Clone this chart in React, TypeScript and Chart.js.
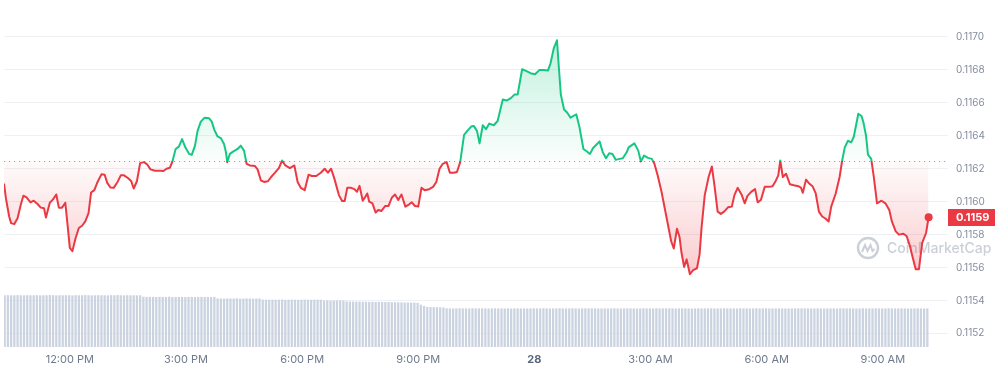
import React, { useEffect, useRef } from "react";
import { Chart, registerables } from "chart.js";

Chart.register(...registerables);

// ---- Data ----
// minutes relative to 12:00 PM (day 27)
const xTickMinutes = [0, 180, 360, 540, 720, 900, 1080, 1260];
const xTickLabels = ["12:00 PM", "3:00 PM", "6:00 PM", "9:00 PM", "28", "3:00 AM", "6:00 AM", "9:00 AM"];
const yTicks = [0.1152, 0.1154, 0.1156, 0.1158, 0.116, 0.1162, 0.1164, 0.1166, 0.1168, 0.117];
const openPrice = 0.11625;

const priceMinutes = [
  -102, -99, -94, -91, -86, -81, -76, -72, -67, -61,
  -56, -50, -45, -40, -37, -31, -26, -21, -17, -12,
  -7, -3, 0, 4, 9, 14, 19, 24, 29, 33,
  38, 43, 49, 54, 58, 63, 68, 74, 79, 84,
  90, 95, 99, 104, 109, 115, 120, 125, 132, 140,
  145, 150, 155, 159, 164, 169, 174, 179, 185, 189,
  194, 198, 203, 209, 216, 220, 224, 229, 234, 239,
  242, 244, 248, 253, 260, 265, 270, 274, 279, 287,
  291, 296, 301, 307, 312, 318, 324, 329, 334, 341,
  348, 353, 358, 364, 370, 375, 382, 389, 395, 400,
  405, 410, 417, 422, 426, 430, 436, 441, 445, 449,
  454, 458, 461, 464, 469, 474, 478, 483, 489, 494,
  499, 504, 509, 514, 520, 526, 530, 535, 540, 545,
  550, 557, 563, 568, 573, 578, 584, 589, 595, 600,
  605, 611, 616, 622, 626, 631, 635, 640, 645, 650,
  657, 663, 671, 677, 684, 689, 694, 701, 707, 714,
  721, 728, 734, 741, 745, 750, 755, 758, 761, 766,
  771, 776, 780, 785, 790, 796, 801, 806, 811, 816,
  821, 826, 831, 836, 841, 846, 852, 857, 863, 866,
  875, 881, 885, 890, 896, 902, 906, 911, 917, 922,
  927, 932, 936, 941, 945, 948, 952, 956, 961, 966,
  972, 976, 979, 984, 990, 995, 999, 1004, 1009, 1014,
  1020, 1026, 1030, 1035, 1041, 1046, 1050, 1056, 1062, 1066,
  1071, 1077, 1084, 1089, 1094, 1098, 1101, 1105, 1110, 1116,
  1122, 1129, 1133, 1136, 1141, 1145, 1151, 1156, 1161, 1166,
  1171, 1176, 1180, 1187, 1193, 1197, 1201, 1206, 1211, 1215,
  1222, 1227, 1230, 1234, 1237, 1242, 1246, 1251, 1258, 1264,
  1270, 1274, 1280, 1285, 1292, 1297, 1302, 1307, 1311, 1316,
  1321, 1327, 1331,
];

const prices = [
  0.11611, 0.11602, 0.11591, 0.11587, 0.115864, 0.1159, 0.115982, 0.116036, 0.116026, 0.115996,
  0.116006, 0.115986, 0.115964, 0.11596, 0.115904, 0.115994, 0.116014, 0.116044, 0.115964, 0.115964,
  0.115994, 0.11584, 0.11572, 0.1157, 0.11578, 0.11584, 0.115854, 0.11588, 0.11593, 0.116056,
  0.11607, 0.11612, 0.116166, 0.116164, 0.116114, 0.116086, 0.116084, 0.11612, 0.11616, 0.11616,
  0.116144, 0.116126, 0.11608, 0.116124, 0.116234, 0.11624, 0.116226, 0.116196, 0.116188, 0.116188,
  0.116186, 0.1162, 0.116206, 0.116244, 0.11632, 0.116334, 0.11638, 0.11633, 0.11629, 0.116284,
  0.11634, 0.11643, 0.116486, 0.11651, 0.116506, 0.116486, 0.116436, 0.116396, 0.116386, 0.11635,
  0.1163, 0.11624, 0.11629, 0.116304, 0.11632, 0.11634, 0.11631, 0.11623, 0.11622, 0.116216,
  0.116196, 0.11613, 0.11612, 0.116124, 0.11615, 0.116176, 0.116204, 0.11625, 0.11622, 0.116204,
  0.11622, 0.11612, 0.116084, 0.11607, 0.116164, 0.116156, 0.116156, 0.116176, 0.1162, 0.116176,
  0.1162, 0.11614, 0.11604, 0.116004, 0.116004, 0.116084, 0.116084, 0.116076, 0.11606, 0.116096,
  0.116006, 0.11603, 0.11605, 0.116, 0.11599, 0.115934, 0.11595, 0.115944, 0.115974, 0.115974,
  0.116024, 0.116044, 0.11601, 0.116044, 0.11597, 0.115984, 0.115996, 0.115974, 0.11597, 0.116084,
  0.11607, 0.116076, 0.11609, 0.11612, 0.1162, 0.11623, 0.11624, 0.116176, 0.116176, 0.11618,
  0.11624, 0.116406, 0.11643, 0.116456, 0.11646, 0.11643, 0.116354, 0.116464, 0.11644, 0.116474,
  0.116464, 0.11649, 0.11662, 0.116614, 0.11663, 0.11665, 0.11665, 0.116804, 0.116794, 0.11678,
  0.116774, 0.1168, 0.1168, 0.116796, 0.11684, 0.11693, 0.11698, 0.11681, 0.11665, 0.11656,
  0.11654, 0.11651, 0.11652, 0.11653, 0.11645, 0.11632, 0.116306, 0.11629, 0.116326, 0.116346,
  0.116366, 0.1163, 0.116264, 0.116294, 0.11629, 0.116254, 0.11626, 0.116264, 0.1163, 0.11633,
  0.116354, 0.11631, 0.116244, 0.11628, 0.116266, 0.11626, 0.11623, 0.11616, 0.11606, 0.11596,
  0.11586, 0.11576, 0.115716, 0.115836, 0.115784, 0.11569, 0.115604, 0.11565, 0.11556, 0.115584,
  0.115596, 0.11568, 0.11584, 0.11604, 0.11615, 0.116214, 0.1161, 0.11594, 0.115926, 0.11594,
  0.115966, 0.11597, 0.11604, 0.116084, 0.116044, 0.11599, 0.116034, 0.11606, 0.116076, 0.115996,
  0.11601, 0.11609, 0.11609, 0.116094, 0.116126, 0.11616, 0.11625, 0.11615, 0.11617, 0.116106,
  0.1161, 0.116094, 0.116086, 0.116054, 0.116134, 0.116114, 0.116094, 0.11605, 0.11594, 0.11591,
  0.115898, 0.11588, 0.11597, 0.11605, 0.11615, 0.11625, 0.11633, 0.11637, 0.11636, 0.116394,
  0.116534, 0.11652, 0.11648, 0.1164, 0.116286, 0.11626, 0.11615, 0.11599, 0.116006, 0.11599,
  0.11595, 0.11588, 0.11582, 0.1158, 0.115806, 0.11579, 0.11573, 0.11565, 0.11559, 0.11559,
  0.11575, 0.11581, 0.115906,
];

// 24h volume bars, one every 5 minutes
const volumeStartMinute = -101;
const volumeIntervalMinutes = 5;
const volumes = [
  520, 521, 519, 520, 522, 520, 519, 521, 520, 520,
  521, 519, 520, 520, 522, 521, 519, 520, 520, 521,
  520, 519, 521, 520, 520, 522, 520, 519, 520, 521,
  520, 520, 519, 521, 520, 522, 520, 519, 521, 520,
  520, 519, 520,
  505, 503, 504, 503, 502, 504, 503, 503, 505, 502,
  503, 504, 503, 502, 503, 504, 503, 502, 504, 503,
  503, 502, 504,
  488, 487, 486, 488, 487, 487, 489, 486, 487, 488, 487, 486, 487, 488,
  476, 475, 474, 476, 475, 475, 477, 474, 475, 476, 475, 474, 475, 476, 475, 474, 476, 475, 475,
  467, 468, 466, 467, 467, 468, 466,
  458, 457, 457, 456, 456, 455, 455, 454, 454, 453, 453, 452, 452, 451, 450, 450, 449, 448, 447, 447, 446, 445, 444,
  425, 412,
  402, 401, 400, 399, 398, 397,
  388, 387, 386, 387, 388, 387, 387, 386, 388, 387,
  387, 388, 387, 386, 387, 388, 387, 387, 386, 388,
  386, 387, 388, 387, 387, 386, 387, 388, 387, 387,
  388, 387, 386, 387, 387, 388, 387, 386, 387, 388,
  387, 386, 387, 388, 387, 387, 388, 386, 387, 387,
  386, 387, 388, 387, 386, 387, 387, 388, 387, 386,
  387, 388, 387, 387, 386, 388, 387, 387, 388, 387,
  388, 386, 387, 387, 388, 387, 386, 387, 388, 387,
  387, 387, 388, 386, 387, 387, 388, 387, 386, 387,
  386, 388, 387, 387, 386, 387, 388, 387, 387, 388,
  387, 387, 386, 388, 387, 387, 386, 387, 388, 387,
  388, 387, 387, 386, 387, 388, 387, 386, 387, 387,
  387, 386, 388, 387, 387, 388, 387, 386, 387, 388,
  386, 387, 387, 388, 387, 386, 387, 388, 387, 387,
  387, 388, 387, 386, 387, 387, 388, 387, 386, 387,
];

const GREEN = "#16c784";
const RED = "#ea3943";

export default function App() {
  const ref = useRef<HTMLCanvasElement>(null);

  useEffect(() => {
    const canvas = ref.current;
    if (!canvas) return;

    const priceData = priceMinutes.map((m, i) => ({ x: m, y: prices[i] }));
    const volData = volumes.map((v, i) => ({ x: volumeStartMinute + i * volumeIntervalMinutes, y: v }));
    const lastIdx = prices.length - 1;
    const maxP = Math.max(...prices);
    const minP = Math.min(...prices);

    const overlay = {
      id: "overlay",
      beforeDatasetsDraw(chart: any) {
        const { ctx, chartArea, scales } = chart;
        const y = Math.round(scales.y.getPixelForValue(openPrice)) + 0.5;
        ctx.save();
        ctx.strokeStyle = "#9aa2b1";
        ctx.lineWidth = 1;
        ctx.setLineDash([1.2, 3.8]);
        ctx.beginPath();
        ctx.moveTo(chartArea.left, y);
        ctx.lineTo(chartArea.right, y);
        ctx.stroke();
        ctx.setLineDash([]);

        // watermark
        const cx = chartArea.right - 80;
        const cy = 248;
        ctx.strokeStyle = "rgba(190,196,206,0.8)";
        ctx.lineWidth = 2.4;
        ctx.beginPath();
        ctx.arc(cx, cy, 10, 0, Math.PI * 2);
        ctx.stroke();
        ctx.lineWidth = 2;
        ctx.beginPath();
        ctx.moveTo(cx - 6, cy + 4);
        ctx.lineTo(cx - 3, cy - 3);
        ctx.lineTo(cx - 0.5, cy + 3);
        ctx.lineTo(cx + 2.5, cy - 3);
        ctx.lineTo(cx + 4.5, cy + 3);
        ctx.lineTo(cx + 6.5, cy + 1);
        ctx.stroke();
        ctx.fillStyle = "rgba(190,196,206,0.8)";
        ctx.font = "500 14px Inter";
        ctx.textBaseline = "middle";
        ctx.textAlign = "left";
        ctx.fillText("CoinMarketCap", chartArea.right - 61, cy + 1);
        ctx.restore();
      },
      afterDraw(chart: any) {
        const { ctx, chartArea, scales } = chart;
        const last = prices[lastIdx];
        const y = scales.y.getPixelForValue(last);
        ctx.save();
        ctx.fillStyle = RED;
        ctx.fillRect(chartArea.right, Math.round(y - 8.5), 47, 17);
        ctx.fillStyle = "#ffffff";
        ctx.font = "bold 11px Inter";
        ctx.textBaseline = "middle";
        ctx.textAlign = "left";
        ctx.fillText(last.toFixed(4), chartArea.right + 8, Math.round(y) + 0.5);
        ctx.restore();
      },
    };

    const chart = new Chart(canvas, {
      type: "line",
      data: {
        datasets: [
          {
            type: "line",
            data: priceData,
            xAxisID: "x",
            yAxisID: "y",
            order: 0,
            borderWidth: 2,
            tension: 0,
            borderJoinStyle: "round",
            borderColor: (c: any) => {
              const chart = c.chart;
              const area = chart.chartArea;
              if (!area) return RED;
              const yb = chart.scales.y.getPixelForValue(openPrice);
              const g = chart.ctx.createLinearGradient(0, area.top, 0, area.bottom);
              const f = Math.min(1, Math.max(0, (yb - area.top) / (area.bottom - area.top)));
              g.addColorStop(0, GREEN);
              g.addColorStop(f, GREEN);
              g.addColorStop(f, RED);
              g.addColorStop(1, RED);
              return g;
            },
            fill: (c: any) => {
              const chart = c.chart;
              const area = chart.chartArea;
              if (!area) return { target: { value: openPrice }, above: "rgba(22,199,132,0.1)", below: "rgba(234,57,67,0.1)" };
              const ys = chart.scales.y;
              const yb = ys.getPixelForValue(openPrice);
              const yTop = ys.getPixelForValue(maxP);
              const yBot = ys.getPixelForValue(minP);
              const ga = chart.ctx.createLinearGradient(0, yTop, 0, yb);
              ga.addColorStop(0, "rgba(22,199,132,0.26)");
              ga.addColorStop(1, "rgba(22,199,132,0.02)");
              const gb = chart.ctx.createLinearGradient(0, yb, 0, yBot);
              gb.addColorStop(0, "rgba(234,57,67,0.02)");
              gb.addColorStop(1, "rgba(234,57,67,0.26)");
              return { target: { value: openPrice }, above: ga, below: gb };
            },
            pointRadius: (c: any) => (c.dataIndex === lastIdx ? 4 : 0),
            pointBackgroundColor: RED,
            pointBorderWidth: 0,
            pointHoverRadius: 0,
          } as any,
          {
            type: "bar",
            data: volData,
            xAxisID: "x",
            yAxisID: "yVol",
            order: 1,
            backgroundColor: "#cbd3e0",
            borderWidth: 0,
            barThickness: 1.6,
          } as any,
        ],
      },
      options: {
        responsive: false,
        devicePixelRatio: 1,
        animation: false,
        events: [],
        layout: { padding: 0 },
        plugins: { legend: { display: false }, tooltip: { enabled: false } },
        scales: {
          x: {
            type: "linear",
            offset: false,
            min: -102,
            max: 1361,
            afterBuildTicks: (s: any) => {
              s.ticks = xTickMinutes.map((v) => ({ value: v }));
            },
            afterFit: (s: any) => {
              s.height = 24;
              s.paddingLeft = 0;
              s.paddingRight = 0;
            },
            grid: { display: false, drawTicks: false, offset: false },
            border: { display: false },
            ticks: {
              padding: 6,
              maxRotation: 0,
              autoSkip: false,
              color: (c: any) => (c.index === 4 ? "#58667e" : "#6f798d"),
              font: (c: any) => ({ family: "Inter", size: 11, weight: c.index === 4 ? "bold" : "normal" }),
              callback: (v: any) => {
                const i = xTickMinutes.indexOf(Number(v));
                return i >= 0 ? xTickLabels[i] : "";
              },
            },
          },
          y: {
            type: "linear",
            position: "right",
            min: 0.115118,
            max: 0.1172,
            afterBuildTicks: (s: any) => {
              s.ticks = yTicks.map((v) => ({ value: v }));
            },
            afterFit: (s: any) => {
              s.width = 50;
              s.paddingTop = 0;
              s.paddingBottom = 0;
            },
            grid: { color: "#eef0f3", drawTicks: false },
            border: { display: false },
            ticks: {
              padding: 8,
              color: "#858ca0",
              font: { family: "Inter", size: 10 },
              callback: (v: any) => Number(v).toFixed(4),
            },
          },
          yVol: {
            type: "linear",
            display: false,
            min: 0,
            max: 3470,
          },
        },
      } as any,
      plugins: [overlay],
    });

    return () => chart.destroy();
  }, []);

  return (
    <div style={{ position: "fixed", left: 0, top: 0, width: 998, height: 371, background: "#ffffff" }}>
      <canvas ref={ref} width={998} height={371} style={{ display: "block", width: 998, height: 371 }} />
    </div>
  );
}
